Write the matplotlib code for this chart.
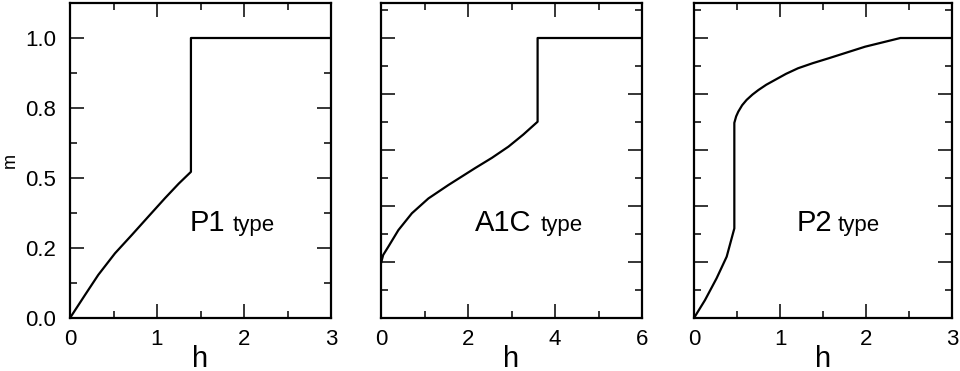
import matplotlib
matplotlib.use("Agg")
import matplotlib.pyplot as plt
from matplotlib.ticker import MultipleLocator

plt.rcParams["font.family"] = ["Liberation Sans", "DejaVu Sans"]

# magnetisation curves m(h) (vertical jumps repeat h)
p1_h = [0.0, 0.172, 0.325, 0.517, 0.709, 0.9, 1.092, 1.25, 1.39, 1.39, 3.0]
p1_m = [0.0, 0.082, 0.154, 0.231, 0.296, 0.362, 0.428, 0.48, 0.522, 1.0, 1.0]

a1c_h = [0.0, 0.05, 0.17, 0.40, 0.71, 1.09, 1.55, 2.16, 2.55, 2.93, 3.27, 3.60, 3.60, 6.0]
a1c_m = [0.196, 0.225, 0.255, 0.314, 0.374, 0.427, 0.475, 0.535, 0.572, 0.612, 0.655, 0.701, 1.0, 1.0]

p2_h = [0.0, 0.128, 0.263, 0.38, 0.469, 0.469, 0.49, 0.515, 0.56, 0.612, 0.68, 0.748, 0.84,
        0.94, 1.07, 1.21, 1.38, 1.56, 1.99, 2.40, 3.0]
p2_m = [0.0, 0.064, 0.142, 0.219, 0.32, 0.697, 0.72, 0.737, 0.76, 0.779, 0.798, 0.814, 0.833,
        0.85, 0.872, 0.892, 0.91, 0.927, 0.969, 1.0, 1.0]

# name, h, m, x max, x major, x minor, y major, y minor, label x, "type" x
panels = [
    ("P1", p1_h, p1_m, 3, 1, 0.5, 0.25, 0.125, 1.38, 1.87),
    ("A1C", a1c_h, a1c_m, 6, 2, 1, 0.2, 0.1, 2.16, 3.66),
    ("P2", p2_h, p2_m, 3, 1, 0.5, 0.2, 0.1, 1.19, 1.675),
]
y_ticks = [0.0, 0.25, 0.5, 0.75, 1.0]
y_labels = ["0.0", "0.2", "0.5", "0.8", "1.0"]

fig = plt.figure(figsize=(9.6, 3.71), dpi=100)
boxes = [(70, 261), (381, 261), (694, 258)]
for i, (name, h, m, xmax, xmaj, xmin, ymaj, ymin, tx, tyx) in enumerate(panels):
    left, width = boxes[i]
    ax = fig.add_axes([left / 960, 53 / 371, width / 960, 315 / 371])
    ax.plot(h, m, color="black", lw=1.6, solid_joinstyle="round")
    ax.set_xlim(0, xmax)
    ax.set_ylim(0, 1.125)
    ax.xaxis.set_major_locator(MultipleLocator(xmaj))
    ax.xaxis.set_minor_locator(MultipleLocator(xmin))
    ax.yaxis.set_major_locator(MultipleLocator(ymaj))
    ax.yaxis.set_minor_locator(MultipleLocator(ymin))
    if i == 0:
        ax.set_yticks(y_ticks)
        ax.set_yticklabels(y_labels)
    else:
        ax.set_yticklabels([])
    ax.tick_params(which="both", direction="in", top=True, right=True,
                   width=1.1, labelsize=16)
    ax.tick_params(which="major", length=10)
    ax.tick_params(which="minor", length=5)
    ax.tick_params(axis="y", pad=10)
    ax.tick_params(axis="x", pad=8)
    for s in ax.spines.values():
        s.set_linewidth(1.6)
    ax.set_xlabel("h", fontsize=21, labelpad=-4)
    ax.text(tx, 0.31, name, fontsize=21, va="baseline", ha="left")
    ax.text(tyx, 0.31, "type", fontsize=16, va="baseline", ha="left")

fig.text(10 / 960, 1 - 160 / 371, "m", fontsize=13, rotation=90,
         ha="center", va="center")

fig.savefig("out.png", dpi=100)
